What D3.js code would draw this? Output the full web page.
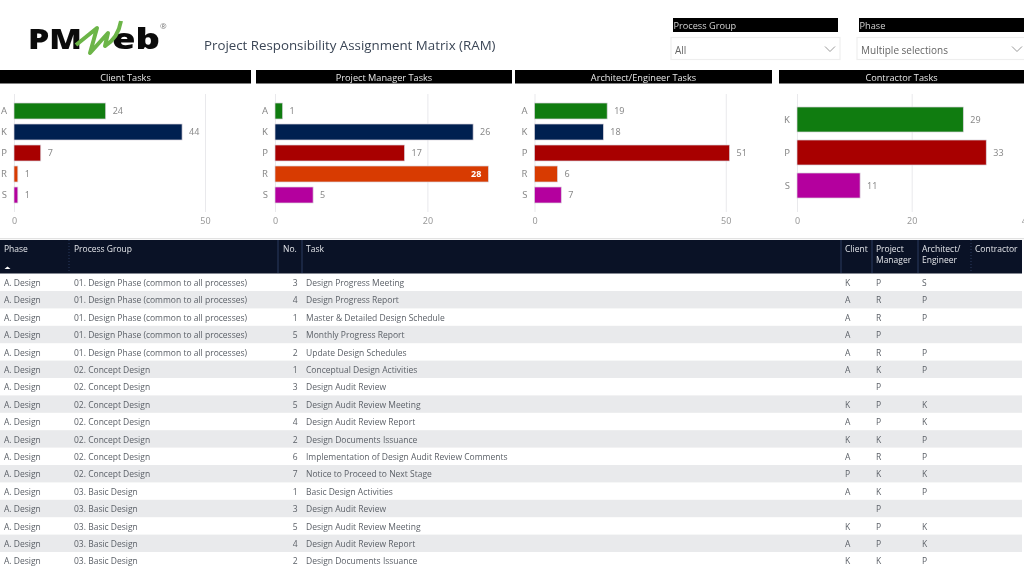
<!DOCTYPE html>
<html>
<head>
<meta charset="UTF-8" />
<title>Project Responsibility Assignment Matrix (RAM)</title>
<script src="https://cdn.jsdelivr.net/npm/d3@7/dist/d3.min.js"></script>
<style>
	html, body { margin:0; padding:0; background:#fff; overflow:hidden; }
	svg { display:block; filter:blur(0.35px); }
	text { font-family:"Open Sans",sans-serif; }
</style>
</head>
<body>
<div id="chart"></div>
<script>
// bar charts
var clientCats = ["A","K","P","R","S"];
var clientVals = [24,44,7,1,1];
var pmCats = ["A","K","P","R","S"];
var pmVals = [1,26,17,28,5];
var aeCats = ["A","K","P","R","S"];
var aeVals = [19,18,51,6,7];
var contractorCats = ["K","P","S"];
var contractorVals = [29,33,11];

// table
var tableHead = ["Phase","Process Group","No.","Task","Client","Project|Manager","Architect/|Engineer","Contractor"];
var phases = ["A. Design","A. Design","A. Design","A. Design","A. Design","A. Design","A. Design","A. Design","A. Design","A. Design","A. Design","A. Design","A. Design","A. Design","A. Design","A. Design","A. Design"];
var groups = [
	"01. Design Phase (common to all processes)","01. Design Phase (common to all processes)","01. Design Phase (common to all processes)","01. Design Phase (common to all processes)","01. Design Phase (common to all processes)",
	"02. Concept Design","02. Concept Design","02. Concept Design","02. Concept Design","02. Concept Design","02. Concept Design","02. Concept Design",
	"03. Basic Design","03. Basic Design","03. Basic Design","03. Basic Design","03. Basic Design"];
var numbers = [3,4,1,5,2,1,3,5,4,2,6,7,1,3,5,4,2];
var tasks = [
	"Design Progress Meeting","Design Progress Report","Master & Detailed Design Schedule","Monthly Progress Report","Update Design Schedules",
	"Conceptual Design Activities","Design Audit Review","Design Audit Review Meeting","Design Audit Review Report","Design Documents Issuance",
	"Implementation of Design Audit Review Comments","Notice to Proceed to Next Stage",
	"Basic Design Activities","Design Audit Review","Design Audit Review Meeting","Design Audit Review Report","Design Documents Issuance"];
var clientRoles = ["K","A","A","A","A","A","","K","A","K","A","P","A","","K","A","K"];
var pmRoles = ["P","R","R","P","R","K","P","P","P","K","R","K","K","P","P","P","K"];
var aeRoles = ["S","P","P","","P","P","","K","K","P","P","K","P","","K","K","P"];
var contractorRoles = ["","","","","","","","","","","","","","","","",""];

var GREEN="#107c10", NAVY="#002050", RED="#a80000", ORANGE="#d83b01", MAGENTA="#b4009e";

var svg = d3.select("#chart").append("svg").attr("width",1024).attr("height",574);

// logo
var logo = svg.append("g");
logo.append("text").attr("x",28).attr("y",49).attr("font-size",29).attr("font-weight",800)
	.attr("font-family","Liberation Sans").attr("textLength",54).attr("lengthAdjust","spacingAndGlyphs").attr("fill","#0b0b0b").text("PM");
logo.append("text").attr("x",112).attr("y",49).attr("font-size",29).attr("font-weight",800)
	.attr("font-family","Liberation Sans").attr("textLength",48).attr("lengthAdjust","spacingAndGlyphs").attr("fill","#0b0b0b").text("eb");
logo.append("path").attr("d","M76,45 L97,28 L90,53 L108,33 L105,46 Q118,38 121,21")
	.attr("fill","none").attr("stroke","#6cb548").attr("stroke-width",4).attr("stroke-linejoin","round");
logo.append("text").attr("x",160).attr("y",29).attr("font-size",8).attr("fill","#777").text("®");

svg.append("text").attr("x",204).attr("y",50).attr("font-size",13.3).attr("fill","#3b4656")
	.text("Project Responsibility Assignment Matrix (RAM)");

// slicers
var slicers = [
	{title:"Process Group", value:"All", hx:673, hw:165, bx:671, bw:169, chevron:825},
	{title:"Phase", value:"Multiple selections", hx:859, hw:165, bx:857, bw:170, chevron:1012}
];
slicers.forEach(function(s){
	svg.append("rect").attr("x",s.hx).attr("y",18).attr("width",s.hw).attr("height",14).attr("fill","#000");
	svg.append("text").attr("x",s.hx+0.5).attr("y",28.5).attr("font-size",9.2).attr("fill","#d4d4d4").text(s.title);
	svg.append("rect").attr("x",s.bx).attr("y",37.5).attr("width",s.bw).attr("height",22).attr("fill","#fff").attr("stroke","#eeeeee").attr("stroke-width",1.2);
	svg.append("text").attr("x",s.bx+4).attr("y",54).attr("font-size",10).attr("fill","#666").text(s.value);
	svg.append("path").attr("d","M"+s.chevron+",46.5 l5,5 l5,-5").attr("fill","none").attr("stroke","#999").attr("stroke-width",1);
});

// bar panels
var panels = [
	{title:"Client Tasks", tx:0, tw:251, x0:14, xPerUnit:3.82, max:50, ticks:[0,50], cats:clientCats, vals:clientVals, colors:[GREEN,NAVY,RED,ORANGE,MAGENTA], y0:98, y1:208, pad:0.238},
	{title:"Project Manager Tasks", tx:256, tw:256, x0:275, xPerUnit:7.62, max:30, ticks:[0,20], cats:pmCats, vals:pmVals, colors:[GREEN,NAVY,RED,ORANGE,MAGENTA], y0:98, y1:208, pad:0.238},
	{title:"Architect/Engineer Tasks", tx:515, tw:257, x0:534.5, xPerUnit:3.825, max:50, ticks:[0,50], cats:aeCats, vals:aeVals, colors:[GREEN,NAVY,RED,ORANGE,MAGENTA], y0:98, y1:208, pad:0.238},
	{title:"Contractor Tasks", tx:779, tw:245, x0:797, xPerUnit:5.735, max:40, ticks:[0,20,40], cats:contractorCats, vals:contractorVals, colors:[GREEN,RED,MAGENTA], y0:99, y1:206, pad:0.242}
];

panels.forEach(function(p){
	svg.append("rect").attr("x",p.tx).attr("y",70).attr("width",p.tw).attr("height",13.5).attr("fill","#000");
	svg.append("text").attr("x",p.tx+p.tw/2).attr("y",80.5).attr("text-anchor","middle").attr("font-size",9.2).attr("fill","#e6e6e6").text(p.title);

	var x = d3.scaleLinear().domain([0,p.max]).range([p.x0,p.x0+p.max*p.xPerUnit]);
	var y = d3.scaleBand().domain(p.cats).range([p.y0,p.y1]).padding(p.pad);

	var xAxis = svg.append("g").attr("transform","translate(0,94)")
		.call(d3.axisBottom(x).tickValues(p.ticks).tickSize(118).tickPadding(0));
	xAxis.select(".domain").remove();
	xAxis.selectAll("line").attr("stroke","#e9e9ec");
	xAxis.selectAll("text").attr("font-size",9).attr("fill","#9a9a9a").attr("y",127).attr("dy",".32em")
		.style("font-family","'Noto Sans',sans-serif");

	var yAxis = svg.append("g").attr("transform","translate("+(p.x0-7)+",0)")
		.call(d3.axisLeft(y).tickSize(0).tickPadding(0));
	yAxis.select(".domain").remove();
	yAxis.selectAll("text").attr("font-size",9.5).attr("fill","#8a8a8a").style("font-family","'Noto Sans',sans-serif");

	var rows = p.cats.map(function(c,i){ return {cat:c, val:p.vals[i], color:p.colors[i]}; });
	svg.append("g").selectAll("rect").data(rows).join("rect")
		.attr("x",x(0)).attr("y",function(d){ return y(d.cat); })
		.attr("width",function(d){ return x(d.val)-x(0); })
		.attr("height",y.bandwidth())
		.attr("fill",function(d){ return d.color; })
		.attr("stroke","#d9d3dc").attr("stroke-width",0.7);

	svg.append("g").selectAll("text").data(rows).join("text")
		.attr("x",function(d){ return d.val==28 ? x(d.val)-7 : x(d.val)+7; })
		.attr("y",function(d){ return y(d.cat)+y.bandwidth()/2; })
		.attr("dy",".34em")
		.attr("text-anchor",function(d){ return d.val==28 ? "end" : "start"; })
		.attr("font-size",9)
		.attr("font-weight",function(d){ return d.val==28 ? 700 : 400; })
		.attr("fill",function(d){ return d.val==28 ? "#fff" : "#8a8a8a"; })
		.style("font-family","'Noto Sans',sans-serif")
		.text(function(d){ return d.val; });
});

// table
svg.append("line").attr("x1",0).attr("x2",1024).attr("y1",238.7).attr("y2",238.7).attr("stroke","#dcdcdc");
svg.append("rect").attr("x",0).attr("y",240).attr("width",1022).attr("height",33.5).attr("fill","#0a1226");

var columns = [
	{left:4, vals:phases},
	{left:74, vals:groups},
	{right:297.5, vals:numbers},
	{left:306, vals:tasks},
	{left:845, vals:clientRoles},
	{left:876, vals:pmRoles},
	{left:922, vals:aeRoles},
	{left:975, vals:contractorRoles}
];
var dividers = [69,278,302,841,872,918,971];
dividers.forEach(function(dx){
	svg.append("line").attr("x1",dx).attr("x2",dx).attr("y1",240).attr("y2",273)
		.attr("stroke","#2a3a5e").attr("stroke-dasharray",dx==69||dx==971?"1,2":null);
});

tableHead.forEach(function(h,i){
	var c = columns[i];
	var tx = i==2 ? 283 : c.left;
	h.split("|").forEach(function(part,k){
		svg.append("text").attr("x",tx).attr("y",251.5+k*11.5).attr("font-size",8.5).attr("fill","#e4e6ea").text(part);
	});
});
svg.append("path").attr("d",d3.line()([[4.5,269],[7.5,266.5],[10.5,269]])+"Z").attr("fill","#fff");

var rowIdx = d3.range(tasks.length);
var rowY = d3.scaleBand().domain(rowIdx).range([273.6,273.6+17.4*tasks.length]);

svg.append("g").selectAll("rect").data(rowIdx.filter(function(i){ return i%2==1; })).join("rect")
	.attr("x",0).attr("width",1022)
	.attr("y",function(i){ return rowY(i); })
	.attr("height",rowY.bandwidth())
	.attr("fill","#e9eaec");

columns.forEach(function(c){
	svg.append("g").selectAll("text").data(rowIdx).join("text")
		.attr("x",c.right!==undefined ? c.right : c.left)
		.attr("y",function(i){ return rowY(i)+rowY.bandwidth()/2+0.7; })
		.attr("dy",".35em")
		.attr("text-anchor",c.right!==undefined ? "end" : "start")
		.attr("font-size",8.5)
		.attr("fill","#5c6168")
		.text(function(i){ return c.vals[i]; });
});
</script>
</body>
</html>
